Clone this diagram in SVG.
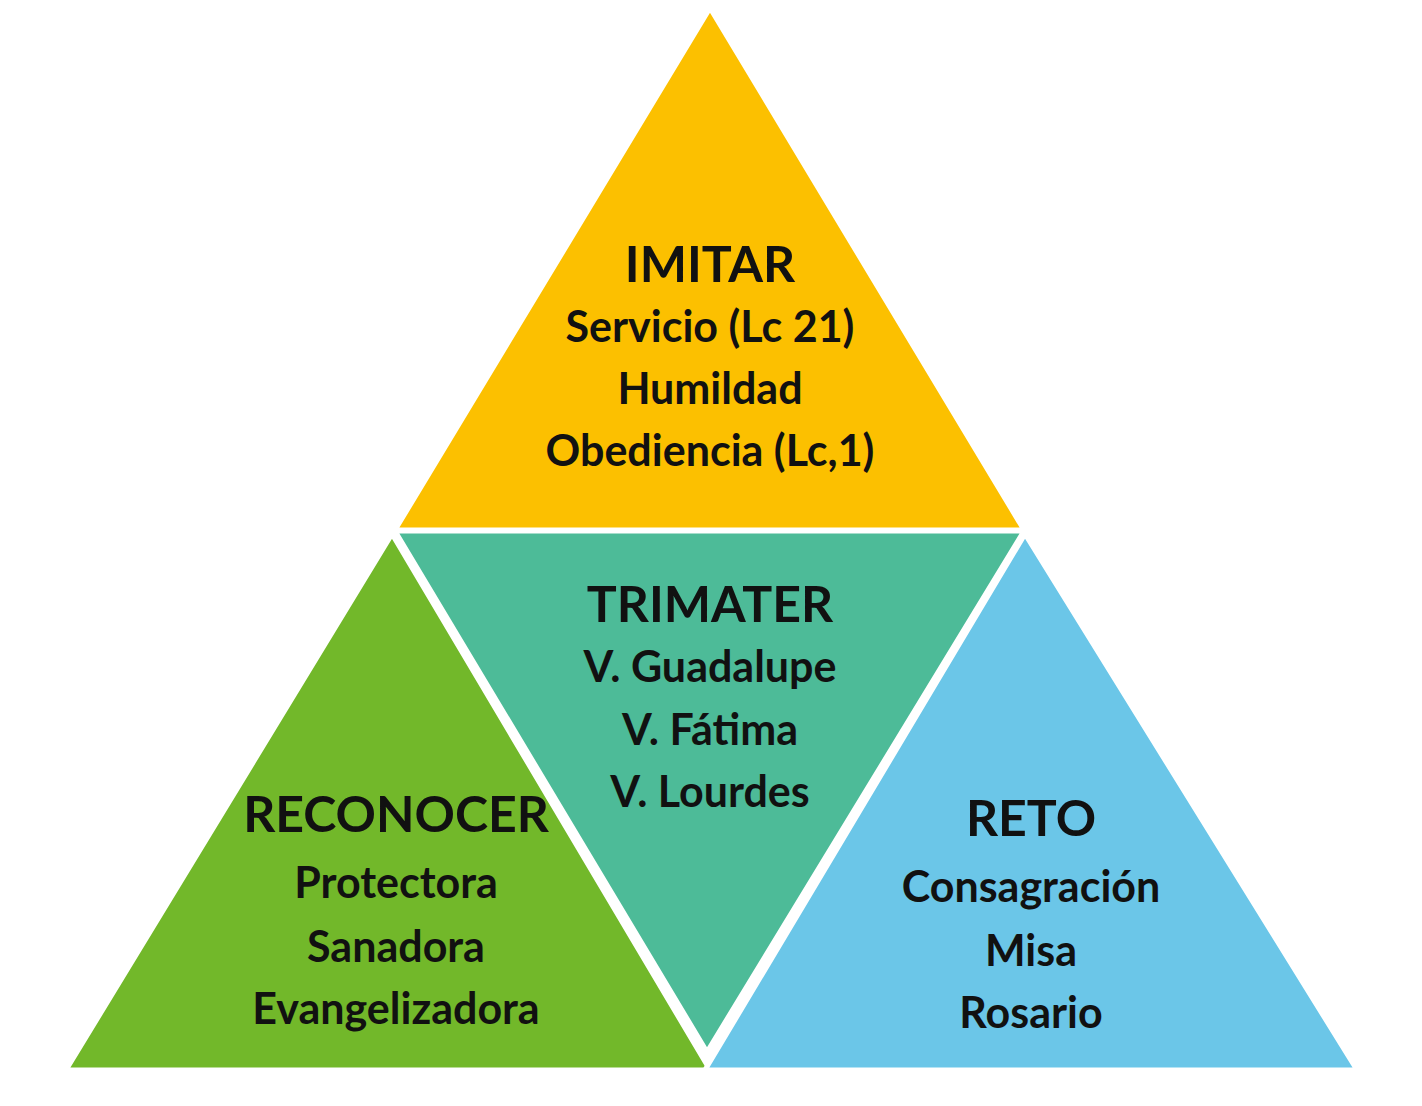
<svg xmlns="http://www.w3.org/2000/svg" width="1422" height="1106" viewBox="0 0 1422 1106">
<style>
.tri{stroke:#fff;stroke-width:5;stroke-linejoin:miter}
text{font-family:Lato,"Liberation Sans",sans-serif;font-weight:bold;fill:#111;text-anchor:middle}
.h{font-size:50px}
.t{font-size:43px}
</style>
<rect width="1422" height="1106" fill="#fff"/>
<g id="imitar">
<polygon class="tri" fill="#FCC000" points="710,8 395,530 1024,530"/>
<text class="h" x="710" y="282">IMITAR</text>
<text class="t" x="710" y="342">Servicio (Lc 21)</text>
<text class="t" x="710" y="404">Humildad</text>
<text class="t" x="710" y="466">Obediencia (Lc,1)</text>
</g>
<g id="trimater">
<polygon class="tri" fill="#4DBB98" points="395,531 1024,531 707,1052"/>
<text class="h" x="710" y="622">TRIMATER</text>
<text class="t" x="710" y="682">V. Guadalupe</text>
<text class="t" x="710" y="745">V. Fátima</text>
<text class="t" x="710" y="807">V. Lourdes</text>
</g>
<g id="reconocer">
<polygon class="tri" fill="#72B82A" points="392,534 66,1070 710,1070"/>
<text class="h" x="396" y="832">RECONOCER</text>
<text class="t" x="396" y="898">Protectora</text>
<text class="t" x="396" y="962">Sanadora</text>
<text class="t" x="396" y="1024">Evangelizadora</text>
</g>
<g id="reto">
<polygon class="tri" fill="#6BC6E8" points="1025,534 705,1070 1357,1070"/>
<text class="h" x="1031" y="836">RETO</text>
<text class="t" x="1031" y="902">Consagración</text>
<text class="t" x="1031" y="966">Misa</text>
<text class="t" x="1031" y="1028">Rosario</text>
</g>
<g id="connectors"/>
</svg>
